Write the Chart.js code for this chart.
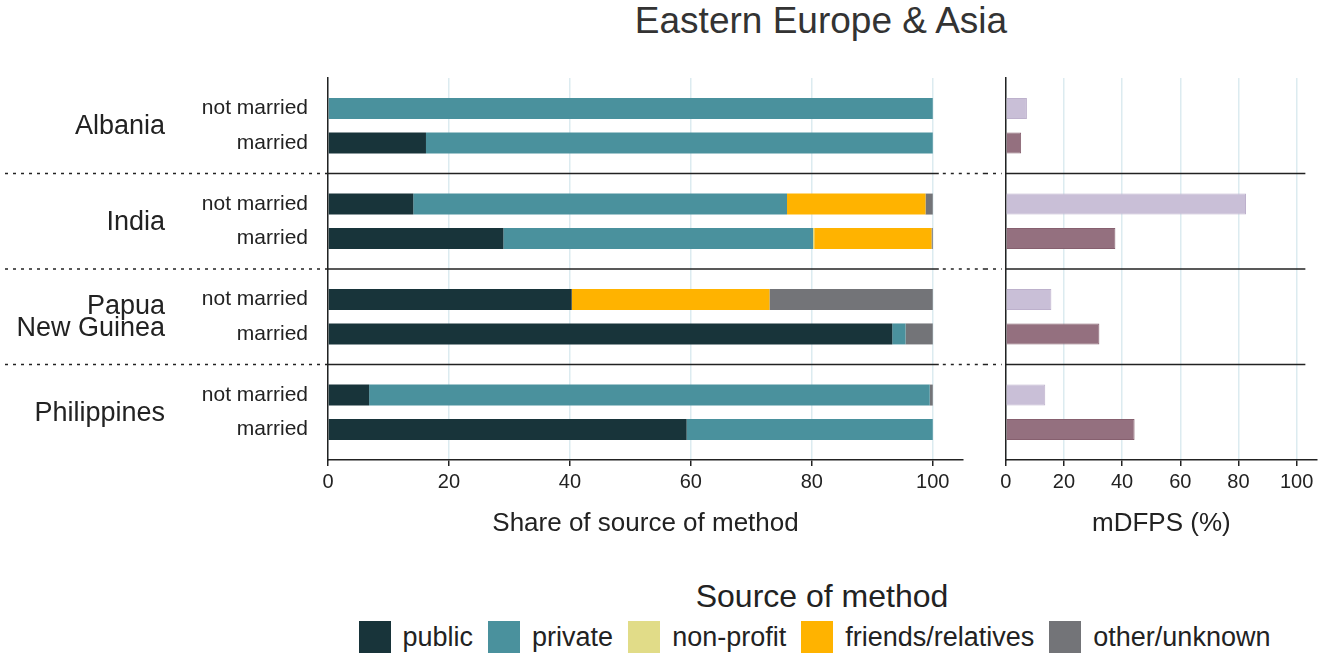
<!DOCTYPE html>
<html>
<head>
<meta charset="utf-8">
<script src="https://cdn.jsdelivr.net/npm/chart.js@4/dist/chart.umd.min.js"></script>
<style>
body{margin:0;background:#fff;font-family:"Liberation Sans",Arial,sans-serif;color:#222;}
#wrap{position:relative;width:1325px;height:663px;overflow:hidden;}
#title{position:absolute;left:321px;width:1000px;top:0px;text-align:center;font-size:37px;line-height:42px;color:#333;}
#leftCanvas{position:absolute;left:0;top:0;}
#rightCanvas{position:absolute;left:985px;top:0;}
#legendTitle{position:absolute;left:322px;width:1000px;top:577px;text-align:center;font-size:32px;line-height:38px;color:#222;}
#legend{position:absolute;left:322px;width:1000px;top:621px;display:flex;justify-content:center;align-items:center;font-size:27px;}
#legend .box{width:32px;height:32px;margin-right:12px;}
#legend .lab{margin-right:15px;}
</style>
</head>
<body>
<div id="wrap">
  <div id="title">Eastern Europe &amp; Asia</div>
  <canvas id="leftCanvas" width="985" height="560"></canvas>
  <canvas id="rightCanvas" width="340" height="560"></canvas>
  <div id="legendTitle">Source of method</div>
  <div id="legend"></div>
</div>
<script>
// categories
var countries = ['Albania', 'India', ['Papua', 'New Guinea'], 'Philippines'];
var groups = ['not married', 'married'];
var sources = ['public', 'private', 'non-profit', 'friends/relatives', 'other/unknown'];
var sourceColors = ['#18343a', '#4a919d', '#e1dc88', '#ffb300', '#737478'];
var xTicks = [0, 20, 40, 60, 80, 100];

// share of source of method (%), not married
var publicNM  = [0, 14.1, 40.3, 6.8];
var privateNM = [100, 61.8, 0, 92.7];
var nonprofitNM = [0, 0, 0, 0];
var friendsNM = [0, 22.9, 32.7, 0];
var otherNM   = [0, 1.2, 27.0, 0.5];

// share of source of method (%), married
var publicM  = [16.2, 29.0, 93.3, 59.3];
var privateM = [83.8, 51.2, 2.2, 40.7];
var nonprofitM = [0, 0.2, 0, 0];
var friendsM = [0, 19.4, 0, 0];
var otherM   = [0, 0.2, 4.5, 0];

// mDFPS (%)
var mdfpsNM = [7.3, 82.6, 15.7, 13.6];
var mdfpsM  = [5.3, 37.7, 32.2, 44.3];

var FONT = '"Liberation Sans", Arial, sans-serif';
Chart.defaults.font.family = FONT;
Chart.defaults.color = '#222';

var CAT_PCT = 0.72;
var BAR_PCT = 0.61;

function xScale(max, title){
    return {
        type: 'linear', min: 0, max: max, stacked: true,
        afterBuildTicks: function(s){ s.ticks = xTicks.map(function(v){ return {value: v}; }); },
        grid: {color: '#dcebf0', lineWidth: 1.5, tickColor: '#222', tickLength: 6},
        border: {color: '#222', width: 1.5},
        ticks: {color: '#222', font: {size: 20}, padding: 4, maxRotation: 0},
        title: {display: true, text: title, color: '#222', font: {size: 26}, padding: {top: 4, bottom: 4}},
        afterFit: function(s){ s.height = 83; }
    };
}

function yScale(w){
    return {
        type: 'category', stacked: true,
        grid: {display: false},
        border: {color: '#222', width: 1.5},
        ticks: {display: false},
        afterFit: function(s){ s.width = w; }
    };
}

function dashLine(ctx, x1, x2, y, dashed){
    ctx.setLineDash(dashed ? [3, 5] : []);
    ctx.beginPath();
    ctx.moveTo(x1, y);
    ctx.lineTo(x2, y);
    ctx.stroke();
}

var leftDecor = {
    id: 'leftDecor',
    afterDraw: function(chart){
        var ctx = chart.ctx, area = chart.chartArea, y = chart.scales.y, x = chart.scales.x;
        ctx.save();
        ctx.strokeStyle = '#222';
        ctx.lineWidth = 1.5;
        for (var i = 0; i < countries.length - 1; i++){
            var yy = (y.getPixelForValue(i) + y.getPixelForValue(i + 1)) / 2;
            dashLine(ctx, 5, area.left, yy, true);
            dashLine(ctx, area.left, x.getPixelForValue(101), yy, false);
            dashLine(ctx, x.getPixelForValue(101) + 4, chart.width, yy, true);
        }
        ctx.setLineDash([]);
        ctx.fillStyle = '#222';
        ctx.textBaseline = 'middle';
        ctx.textAlign = 'right';
        ctx.font = '21px ' + FONT;
        [0, sources.length].forEach(function(di, g){
            chart.getDatasetMeta(di).data.forEach(function(bar){
                ctx.fillText(groups[g], area.left - 20, bar.y);
            });
        });
        ctx.font = '27px ' + FONT;
        countries.forEach(function(c, i){
            var lines = [].concat(c);
            var yc = y.getPixelForValue(i) + 1;
            lines.forEach(function(l, k){
                ctx.fillText(l, 165, yc + (k - (lines.length - 1) / 2) * 22);
            });
        });
        ctx.restore();
    }
};

var rightDecor = {
    id: 'rightDecor',
    afterDraw: function(chart){
        var ctx = chart.ctx, area = chart.chartArea, y = chart.scales.y, x = chart.scales.x;
        ctx.save();
        ctx.strokeStyle = '#222';
        ctx.lineWidth = 1.5;
        for (var i = 0; i < countries.length - 1; i++){
            var yy = (y.getPixelForValue(i) + y.getPixelForValue(i + 1)) / 2;
            dashLine(ctx, 0, area.left - 4, yy, true);
            dashLine(ctx, area.left, x.getPixelForValue(103), yy, false);
        }
        ctx.restore();
    }
};

var nmData = [publicNM, privateNM, nonprofitNM, friendsNM, otherNM];
var mData = [publicM, privateM, nonprofitM, friendsM, otherM];
var leftSets = [];
sources.forEach(function(s, i){
    leftSets.push({label: s, data: nmData[i], backgroundColor: sourceColors[i], stack: 'not married'});
});
sources.forEach(function(s, i){
    leftSets.push({label: s, data: mData[i], backgroundColor: sourceColors[i], stack: 'married'});
});
leftSets.forEach(function(d){
    d.categoryPercentage = CAT_PCT;
    d.barPercentage = BAR_PCT;
    d.borderWidth = 0;
});

new Chart(document.getElementById('leftCanvas'), {
    type: 'bar',
    data: {labels: countries, datasets: leftSets},
    options: {
        indexAxis: 'y',
        responsive: false,
        animation: false,
        layout: {padding: {left: 0, right: 22, top: 78, bottom: 17}},
        plugins: {legend: {display: false}, tooltip: {enabled: false}},
        scales: {
            x: xScale(105, 'Share of source of method'),
            y: yScale(328)
        }
    },
    plugins: [leftDecor]
});

new Chart(document.getElementById('rightCanvas'), {
    type: 'bar',
    data: {
        labels: countries,
        datasets: [
            {label: 'not married', data: mdfpsNM, backgroundColor: '#c9bfd7', borderColor: '#bdb1cc', borderWidth: 1,
             categoryPercentage: CAT_PCT, barPercentage: BAR_PCT},
            {label: 'married', data: mdfpsM, backgroundColor: '#94707f', borderColor: '#86606f', borderWidth: 1,
             categoryPercentage: CAT_PCT, barPercentage: BAR_PCT}
        ]
    },
    options: {
        indexAxis: 'y',
        responsive: false,
        animation: false,
        layout: {padding: {left: 0, right: 8, top: 78, bottom: 17}},
        plugins: {legend: {display: false}, tooltip: {enabled: false}},
        scales: {
            x: Object.assign(xScale(107, 'mDFPS (%)'), {stacked: false}),
            y: Object.assign(yScale(20.7), {stacked: false})
        }
    },
    plugins: [rightDecor]
});

// legend
var legend = document.getElementById('legend');
sources.forEach(function(s, i){
    var box = document.createElement('div');
    box.className = 'box';
    box.style.background = sourceColors[i];
    var lab = document.createElement('div');
    lab.className = 'lab';
    lab.textContent = s;
    legend.appendChild(box);
    legend.appendChild(lab);
});
</script>
</body>
</html>
